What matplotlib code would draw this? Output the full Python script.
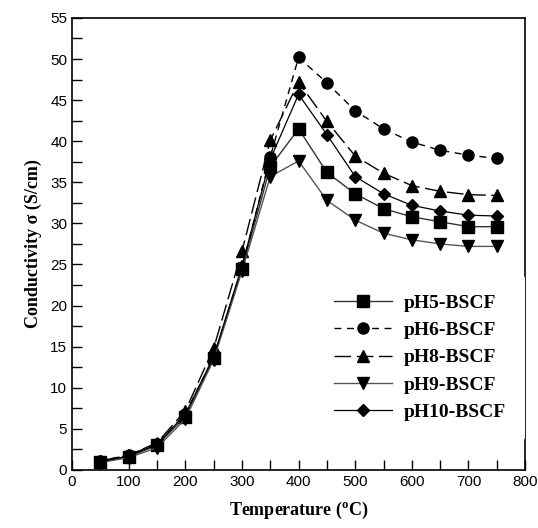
import matplotlib
matplotlib.use("Agg")
import matplotlib.pyplot as plt
from matplotlib.ticker import MultipleLocator

temps = [50, 100, 150, 200, 250, 300, 350, 400, 450, 500, 550, 600, 650, 700, 750]

ph5 = [1.0, 1.6, 3.0, 6.5, 13.6, 24.4, 36.9, 41.5, 36.2, 33.6, 31.8, 30.8, 30.2, 29.6, 29.6]
ph6 = [1.1, 1.8, 3.2, 6.8, 13.7, 24.6, 38.1, 50.2, 47.1, 43.7, 41.5, 39.9, 38.9, 38.3, 37.9]
ph8 = [1.1, 1.8, 3.3, 7.2, 14.8, 26.6, 40.1, 47.2, 42.4, 38.2, 36.1, 34.6, 33.9, 33.5, 33.4]
ph9 = [0.9, 1.5, 2.7, 6.2, 13.4, 24.2, 35.7, 37.6, 32.8, 30.4, 28.8, 28.0, 27.5, 27.2, 27.2]
ph10 = [1.0, 1.7, 3.1, 6.8, 13.8, 24.8, 37.8, 45.7, 40.8, 35.7, 33.6, 32.2, 31.5, 31.0, 30.9]

labels = ["pH5-BSCF", "pH6-BSCF", "pH8-BSCF", "pH9-BSCF", "pH10-BSCF"]

fig = plt.figure(figsize=(5.38, 5.28), dpi=100)
ax = fig.add_axes([0.134, 0.110, 0.842, 0.856])

mk = dict(mfc="black", mec="black")
ax.plot(temps, ph5, color="#333333", lw=1.0, ls="-", marker="s", ms=8, label=labels[0], **mk)
ax.plot(temps, ph6, color="black", lw=1.0, ls=(0, (5, 4)), marker="o", ms=8, label=labels[1], **mk)
ax.plot(temps, ph8, color="black", lw=1.0, ls=(0, (12, 4)), marker="^", ms=8, label=labels[2], **mk)
ax.plot(temps, ph9, color="#555555", lw=1.0, ls="-", marker="v", ms=8, label=labels[3], **mk)
ax.plot(temps, ph10, color="black", lw=0.9, ls="-", marker="D", ms=6, label=labels[4], **mk)

ax.set_xlim(0, 800)
ax.set_ylim(0, 55)
ax.xaxis.set_major_locator(MultipleLocator(100))
ax.xaxis.set_minor_locator(MultipleLocator(50))
ax.yaxis.set_major_locator(MultipleLocator(5))
ax.yaxis.set_minor_locator(MultipleLocator(2.5))
ax.tick_params(which="both", direction="in", length=7, width=1, top=False, right=False)
ax.tick_params(labelsize=11)
for lbl in ax.get_xticklabels() + ax.get_yticklabels():
    lbl.set_fontfamily("Liberation Sans")
for s in ax.spines.values():
    s.set_linewidth(1.2)

ax.set_xlabel("Temperature ($^\\mathregular{o}$C)", fontfamily="Liberation Serif",
              fontweight="bold", fontsize=13, labelpad=8)
ax.set_ylabel("Conductivity σ (S/cm)", fontfamily="Liberation Serif",
              fontweight="bold", fontsize=13, labelpad=6)

leg = ax.legend(loc="lower right", bbox_to_anchor=(1.0, 0.065), frameon=True,
                prop={"family": "Liberation Serif", "weight": "bold", "size": 14},
                handlelength=3.0, handletextpad=0.6, labelspacing=0.5,
                borderpad=1.0, borderaxespad=0.0)
leg.get_frame().set_edgecolor("none")
leg.get_frame().set_facecolor("white")
leg.get_frame().set_alpha(1.0)

fig.savefig("out.png", dpi=100)
